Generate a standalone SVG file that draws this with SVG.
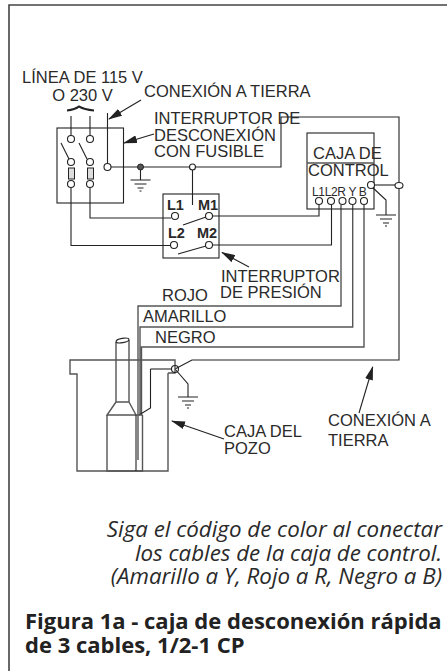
<svg xmlns="http://www.w3.org/2000/svg" width="447" height="671" viewBox="0 0 447 671">
<style>
.l{fill:none;stroke:#222;stroke-width:1.1}
.g{fill:none;stroke:#555;stroke-width:1.4}
.c{fill:#fff;stroke:#222;stroke-width:1.1}
.o{fill:none;stroke:#222;stroke-width:1.1}
text{font-family:"Liberation Sans",Arial,sans-serif;font-size:16.5px;fill:#2a2a2a}
.b{font-weight:bold;font-size:14.5px}
.s{font-size:12px;letter-spacing:-.35px}
.i{font-family:"Open Sans",sans-serif;font-style:italic;font-size:22.3px;text-anchor:end}
.h{font-family:"Open Sans",sans-serif;font-weight:bold;font-size:22px;fill:#222}
</style>
<defs>
<marker id="a" markerWidth="14" markerHeight="8" refX="13" refY="4" orient="auto" markerUnits="userSpaceOnUse"><path d="M0 0L14 4L0 8z" fill="#222"/></marker>
<g id="gnd"><path class="l" d="M-10 0H10M-6 4H6M-3 8H3M-1 11H1"/></g>
</defs>
<path id="frame" fill="none" stroke="#444" stroke-width="1.6" d="M9 671V5H447"/>
<g id="connectors">
<path class="l" d="M71 116V135M90 116V135M107.500 113V163"/>
<path class="l" d="M111 167H281V117H399V360H192L175 369"/>
<path class="l" d="M140.500 167V180M192.500 167V205"/>
<path class="l" d="M90 188V218H171M71 188V245.500H170"/>
<path class="l" d="M213 216H319V205M213 245H331.500V205"/>
<path class="g" d="M341 205V306H138V460M352.700 205V327H140V415M364 205V347H141.500V415"/>
<path class="l" d="M375 185H399"/>
<path class="l" d="M372 187L386 200V215"/>
<path class="l" d="M175 369L188 384V397"/>
<path class="l" d="M61 143L69 159M79 143L87 159M183 225L206 217M178 254L206 246"/>
<path class="l" d="M67 110Q75 109 79 106Q84 109 94 110M67 111Q75 110 79 107Q84 110 94 111"/>
<g marker-end="url(#a)" class="l"><path d="M141 100L109 119"/><path d="M154 134L124 143"/><path d="M249 267L222 252.500"/><path d="M359 413L372.700 367"/><path d="M224 439L172 421"/></g>
</g>
<g id="disconnect"><rect class="l" x="57" y="128" width="66.500" height="75"/>
<circle class="c" cx="71" cy="139" r="3.500"/><circle class="c" cx="90" cy="139" r="3.500"/><circle class="c" cx="71" cy="162" r="3.500"/><circle class="c" cx="90" cy="162" r="3.500"/><circle class="c" cx="71" cy="184" r="3.500"/><circle class="c" cx="90" cy="184" r="3.500"/><circle class="c" cx="107.500" cy="167" r="3.500"/>
<rect x="68.500" y="168" width="6" height="11" fill="#ddd" stroke="#222"/><rect x="87.500" y="168" width="6" height="11" fill="#ddd" stroke="#222"/>
<circle cx="140.500" cy="167" r="3" fill="#555" stroke="#222"/><circle class="c" cx="192.500" cy="167" r="3"/>
<use href="#gnd" x="140.500" y="180"/></g>
<g id="pressure"><rect class="l" x="163" y="194" width="56" height="64"/>
<circle class="c" cx="175" cy="216" r="3.500"/><circle class="c" cx="209" cy="216" r="3.500"/><circle class="c" cx="174" cy="245" r="3.500"/><circle class="c" cx="209" cy="245" r="3.500"/>
<text class="b" x="167" y="210">L1</text><text class="b" x="198" y="210">M1</text><text class="b" x="168" y="238">L2</text><text class="b" x="197" y="238">M2</text></g>
<g id="control"><rect class="l" x="307" y="133" width="67" height="76"/><path class="g" d="M307 163H374"/>
<circle class="c" cx="319" cy="201" r="3.500"/><circle class="c" cx="331" cy="201" r="3.500"/><circle class="c" cx="342.500" cy="201" r="3.500"/><circle class="c" cx="352.500" cy="201" r="3.500"/><circle class="c" cx="364" cy="201" r="3.500"/><circle class="c" cx="371" cy="185" r="3.500"/><ellipse class="c" cx="399" cy="185.500" rx="4" ry="3"/>
<use href="#gnd" x="386" y="215"/>
<text x="313" y="159">CAJA DE</text><text x="308" y="176">CONTROL</text><text class="s" x="312" y="195.500">L1L2R Y B</text></g>
<g id="well"><path class="g" d="M168 373V471H77V374H70V360H175V373H168"/><path class="g" d="M150.500 369H172"/><path class="l" d="M150.500 369V408L139 415"/>
<circle class="o" cx="175" cy="369" r="3.500"/>
<use href="#gnd" x="188" y="397"/></g>
<g id="pump"><path class="g" d="M116 342V402H129V340M116 402L107 415H142.500M129 402L136 415M107 415V471H142.500V415"/><ellipse class="o" cx="122.500" cy="340.500" rx="6.500" ry="2.200" transform="rotate(-10 122.500 340.500)"/><path class="l" d="M136 415V471"/></g>
<g id="labels">
<text x="82.500" y="83" text-anchor="middle">LÍNEA DE 115 V</text><text x="82.500" y="100.500" text-anchor="middle">O 230 V</text>
<text x="144" y="96.500">CONEXIÓN A TIERRA</text>
<text x="154" y="124">INTERRUPTOR DE</text><text x="154" y="141">DESCONEXIÓN</text><text x="154" y="156.500">CON FUSIBLE</text>
<text x="221" y="282">INTERRUPTOR</text><text x="220" y="298">DE PRESIÓN</text>
<text x="162" y="301">ROJO</text><text x="143" y="322">AMARILLO</text><text x="155" y="343">NEGRO</text>
<text x="224" y="437">CAJA DEL</text><text x="224" y="454">POZO</text>
<text x="328" y="426">CONEXIÓN A</text><text x="328" y="446">TIERRA</text>
<text class="i" x="442" y="537">Siga el código de color al conectar</text><text class="i" x="442" y="560.500">los cables de la caja de control.</text><text class="i" x="442" y="584">(Amarillo a Y, Rojo a R, Negro a B)</text>
<text class="h" x="25" y="629">Figura 1a - caja de desconexión rápida</text><text class="h" x="25" y="653">de 3 cables, 1/2-1 CP</text>
</g>
</svg>
